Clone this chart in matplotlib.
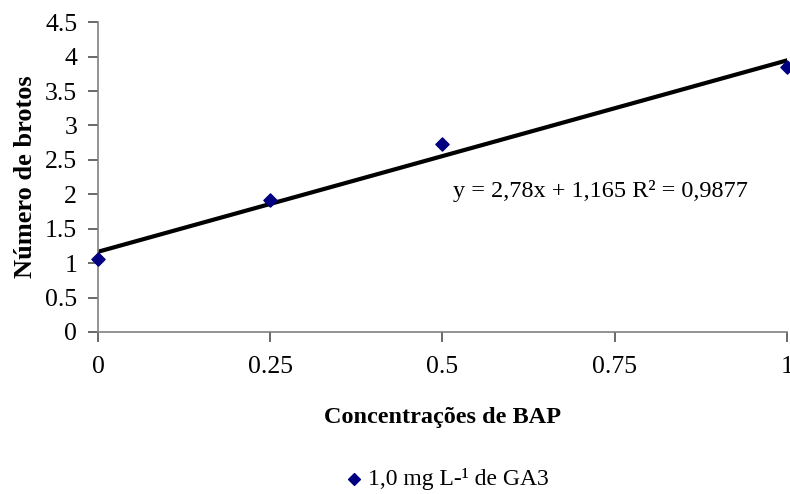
import numpy as np
import matplotlib
matplotlib.use("Agg")
import matplotlib.pyplot as plt

# Data
bap = [0, 0.25, 0.5, 1]
brotos = [1.06, 1.92, 2.73, 3.85]
slope = 2.78
intercept = 1.165
xticks = [0, 0.25, 0.5, 0.75, 1]
xticklabels = ["0", "0.25", "0.5", "0.75", "1"]
yticks = [0, 0.5, 1, 1.5, 2, 2.5, 3, 3.5, 4, 4.5]
yticklabels = ["0", "0.5", "1", "1.5", "2", "2.5", "3", "3.5", "4", "4.5"]

plt.rcParams["font.family"] = ["Liberation Serif", "DejaVu Serif"]

fig = plt.figure(figsize=(7.9, 4.94), dpi=100)
ax = fig.add_axes([0.124, 0.328, 0.872, 0.627])

# trend line
xl = np.array([0, 1])
ax.plot(xl, slope * xl + intercept, color="black", lw=3, zorder=2)

# data points
ax.scatter(bap, brotos, marker="D", s=45, color="#000080", zorder=3, clip_on=False,
           label="1,0 mg L-¹ de GA3")

ax.set_xlim(0, 1)
ax.set_ylim(0, 4.5)
ax.set_xticks(xticks)
ax.set_xticklabels(xticklabels)
ax.set_yticks(yticks)
ax.set_yticklabels(yticklabels)

for s in ["top", "right"]:
    ax.spines[s].set_visible(False)
for s in ["left", "bottom"]:
    ax.spines[s].set_color("#808080")
    ax.spines[s].set_linewidth(1.2)
ax.tick_params(axis="both", direction="out", length=7, width=1.2, color="#505050",
               labelsize=18.5)
ax.tick_params(axis="x", pad=10)
ax.tick_params(axis="y", pad=8)

ax.set_xlabel("Concentrações de BAP", fontsize=17.5, fontweight="bold", labelpad=21)
ax.set_ylabel("Número de brotos", fontsize=19, fontweight="bold", labelpad=6)

ax.text(0.515, 2.05, "y = 2,78x + 1,165 R² = 0,9877", fontsize=17.5, ha="left", va="center")

fig.legend(loc="lower center", bbox_to_anchor=(0.564, -0.035), frameon=False,
           fontsize=17, handletextpad=0.1, handlelength=1.0, markerscale=0.9)

fig.savefig("out.png", dpi=100)
